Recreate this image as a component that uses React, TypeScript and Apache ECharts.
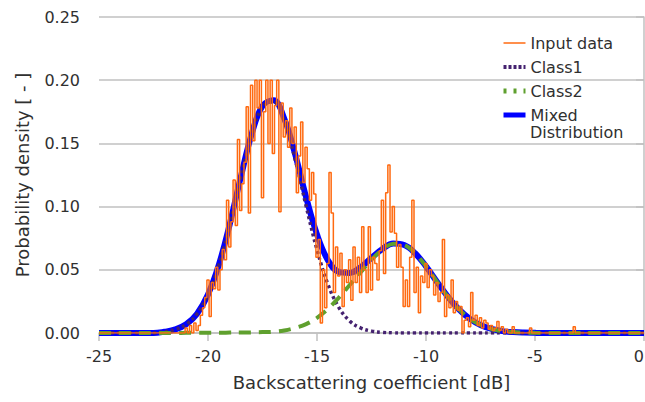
import React, { useEffect, useRef } from "react";
import * as echarts from "echarts";

// x grid (dB) for the fitted curves, 0.5 dB steps from -25 to 0
const curveDb = [
  -25, -24.5, -24, -23.5, -23, -22.5, -22, -21.5, -21, -20.5, -20, -19.5, -19, -18.5, -18, -17.5, -17,
  -16.5, -16, -15.5, -15, -14.5, -14, -13.5, -13, -12.5, -12, -11.5, -11, -10.5, -10, -9.5, -9, -8.5,
  -8, -7.5, -7, -6.5, -6, -5.5, -5, -4.5, -4, -3.5, -3, -2.5, -2, -1.5, -1, -0.5, 0,
];

const class1 = [
  0, 0, 0, 0, 0, 0, 0.001, 0.0028, 0.0068, 0.0152, 0.0303, 0.0539, 0.086, 0.1227, 0.1567, 0.179, 0.1831,
  0.1675, 0.1372, 0.1005, 0.0659, 0.0386, 0.0203, 0.0095, 0.004, 0.0015, 0.0005, 0.0001, 0, 0, 0, 0, 0, 0,
  0, 0, 0, 0, 0, 0, 0, 0, 0, 0, 0, 0, 0, 0, 0, 0, 0,
];

const class2 = [
  0, 0, 0, 0, 0, 0, 0, 0, 0.0001, 0.0001, 0.0002, 0.0002, 0.0003, 0.0004, 0.0005, 0.0007, 0.001,
  0.002, 0.004, 0.007, 0.012, 0.019, 0.028, 0.038, 0.048, 0.058, 0.066, 0.0707, 0.0696, 0.0631, 0.0527,
  0.0406, 0.0288, 0.0189, 0.0114, 0.0063, 0.0032, 0.0015, 0.0007, 0.0003, 0.0001, 0, 0, 0, 0, 0, 0, 0, 0,
  0, 0,
];

const mixed = [
  0, 0, 0, 0, 0, 0, 0.001, 0.0028, 0.0069, 0.0153, 0.0305, 0.0541, 0.0863, 0.1231, 0.1572, 0.1797,
  0.1841, 0.1695, 0.1412, 0.1075, 0.0779, 0.0576, 0.0483, 0.0475, 0.052, 0.0595, 0.0665, 0.0708, 0.0696,
  0.0631, 0.0527, 0.0406, 0.0288, 0.0189, 0.0114, 0.0063, 0.0032, 0.0015, 0.0007, 0.0003, 0.0001, 0, 0,
  0, 0, 0, 0, 0, 0, 0, 0,
];

// Input histogram: 0.1 dB bins starting at -21.0 dB
const inputStartDb = -21.0;
const inputBinDb = 0.1;
const inputDensity = [
  0.004, 0, 0.006, 0, 0.008, 0.002, 0.006, 0.014, 0.02, 0.028,
  0.042, 0.013, 0.04, 0.035, 0.052, 0.034, 0.05, 0.066, 0.058, 0.105,
  0.068, 0.088, 0.121, 0.085, 0.153, 0.097, 0.118, 0.135, 0.179, 0.095,
  0.196, 0.152, 0.2, 0.178, 0.2, 0.107, 0.175, 0.2, 0.15, 0.2,
  0.142, 0.18, 0.2, 0.096, 0.182, 0.155, 0.168, 0.147, 0.178, 0.15,
  0.163, 0.111, 0.14, 0.167, 0.119, 0.147, 0.13, 0.105, 0.127, 0.11,
  0.06, 0.074, 0.008, 0.05, 0.02, 0.055, 0.127, 0.095, 0.032, 0.068,
  0.045, 0.063, 0.021, 0.05, 0.04, 0.058, 0.026, 0.068, 0.04, 0.06,
  0.032, 0.084, 0.05, 0.032, 0.084, 0.034, 0.06, 0.055, 0.042, 0.065,
  0.105, 0.047, 0.111, 0.133, 0.08, 0.1, 0.079, 0.052, 0.07, 0.052,
  0.021, 0.042, 0.021, 0.06, 0.105, 0.032, 0.052, 0.016, 0.045, 0.04,
  0.055, 0.036, 0.05, 0.045, 0.03, 0.04, 0.025, 0.032, 0.074, 0.013,
  0.03, 0.02, 0.042, 0.016, 0.025, 0.018, 0.021, 0, 0.01, 0.012,
  0.005, 0.032, 0.01, 0.014, 0.006, 0.012, 0.004, 0.01, 0.008, 0.003,
  0.006, 0.002, 0.004, 0.009, 0.002, 0.005, 0, 0.003, 0, 0,
  0.005, 0,
];
const inputHeadDb = [-25, -21.1];
const inputHeadDensity = [0, 0];
const inputTailDb = [-5.3, -5.2, -5.1, -3.3, -3.2, -3.1, 0];
const inputTailDensity = [0, 0.004, 0, 0, 0.005, 0, 0];

const xTicks = { min: -25, max: 0, interval: 5 };
const yTicks = { min: 0, max: 0.25, interval: 0.05 };

const FONT = "DejaVu Sans";
const TEXT = "#303030";
const GRID = "#c0c0c0";

const C_INPUT = "#ff6a10";
const C_CLASS1 = "#452270";
const C_CLASS2 = "#5fa02e";
const C_MIXED = "#0000ff";

export default function App() {
  const ref = useRef<HTMLDivElement>(null);

  useEffect(() => {
    if (!ref.current) return;
    const chart = echarts.init(ref.current, undefined, { renderer: "svg" });

    const pair = (xs: number[], ys: number[]) => xs.map((x, i) => [x, ys[i]]);
    const inputData = [
      ...pair(inputHeadDb, inputHeadDensity),
      ...inputDensity.map((v, i) => [
        Math.round((inputStartDb + i * inputBinDb) * 10) / 10,
        v,
      ]),
      ...pair(inputTailDb, inputTailDensity),
    ];

    chart.setOption({
      animation: false,
      backgroundColor: "#ffffff",
      grid: { left: 99, right: 1, top: 17, bottom: 69, containLabel: false, outerBoundsMode: "none" },
      legend: {
        orient: "vertical",
        left: 496,
        top: 30,
        itemWidth: 22,
        itemHeight: 14,
        itemGap: 8,
        itemStyle: { opacity: 0 },
        textStyle: { fontFamily: FONT, fontSize: 16, color: TEXT },
        formatter: (n: string) => (n === "Mixed Distribution" ? "Mixed" : n),
        data: [
          { name: "Input data", lineStyle: { color: C_INPUT, width: 1.5, type: "solid" } },
          { name: "Class1", lineStyle: { color: C_CLASS1, width: 4, type: [3, 2] } },
          { name: "Class2", lineStyle: { color: C_CLASS2, width: 5, type: [3, 7] } },
          { name: "Mixed Distribution", lineStyle: { color: C_MIXED, width: 5, type: "solid" } },
        ],
      },
      graphic: [
        {
          type: "text",
          left: 530,
          top: 124,
          silent: true,
          style: { text: "Distribution", font: `16px "${FONT}"`, fill: TEXT },
        },
      ],
      xAxis: {
        type: "value",
        min: xTicks.min,
        max: xTicks.max,
        interval: xTicks.interval,
        name: "Backscattering coefficient [dB]",
        nameLocation: "middle",
        nameGap: 40,
        nameTextStyle: { fontFamily: FONT, fontSize: 18, color: TEXT },
        axisLine: { show: true, onZero: false, lineStyle: { color: GRID, width: 1.5 } },
        axisTick: { show: true, length: 8, lineStyle: { color: GRID, width: 1.5 } },
        axisLabel: {
          fontFamily: FONT,
          fontSize: 16,
          color: TEXT,
          margin: 15,
          hideOverlap: false,
          alignMaxLabel: "right",
        },
        splitLine: { show: false },
      },
      yAxis: {
        type: "value",
        min: yTicks.min,
        max: yTicks.max,
        interval: yTicks.interval,
        name: "Probability density [ - ]",
        nameLocation: "middle",
        nameGap: 68,
        nameTextStyle: { fontFamily: FONT, fontSize: 18, color: TEXT },
        axisLine: { show: true, lineStyle: { color: GRID, width: 1.5 } },
        axisTick: { show: true, length: 8, lineStyle: { color: GRID, width: 1.5 } },
        axisLabel: {
          fontFamily: FONT,
          fontSize: 16,
          color: TEXT,
          margin: 19,
          formatter: (v: number) => v.toFixed(2),
        },
        splitLine: { show: true, lineStyle: { color: GRID, width: 1.5 } },
      },
      series: [
        {
          name: "Mixed Distribution",
          type: "line",
          data: pair(curveDb, mixed),
          showSymbol: false,
          symbol: "none",
          smooth: 0.4,
          lineStyle: { color: C_MIXED, width: 6 },
          itemStyle: { color: C_MIXED },
          z: 2,
        },
        {
          name: "Class1",
          type: "line",
          data: pair(curveDb, class1),
          showSymbol: false,
          symbol: "none",
          smooth: 0.4,
          lineStyle: { color: C_CLASS1, width: 3.5, type: [3, 3] },
          itemStyle: { color: C_CLASS1 },
          z: 3,
        },
        {
          name: "Class2",
          type: "line",
          data: pair(curveDb, class2),
          showSymbol: false,
          symbol: "none",
          smooth: 0.4,
          lineStyle: { color: C_CLASS2, width: 4, type: [12, 8] },
          itemStyle: { color: C_CLASS2 },
          z: 3,
        },
        {
          name: "Input data",
          type: "line",
          data: inputData,
          showSymbol: false,
          symbol: "none",
          step: "middle",
          lineStyle: { color: C_INPUT, width: 1.5 },
          itemStyle: { color: C_INPUT },
          z: 4,
        },
      ],
    });

    return () => chart.dispose();
  }, []);

  return (
    <div
      ref={ref}
      style={{ position: "fixed", left: 0, top: 0, width: 645, height: 402, background: "#fff" }}
    />
  );
}
